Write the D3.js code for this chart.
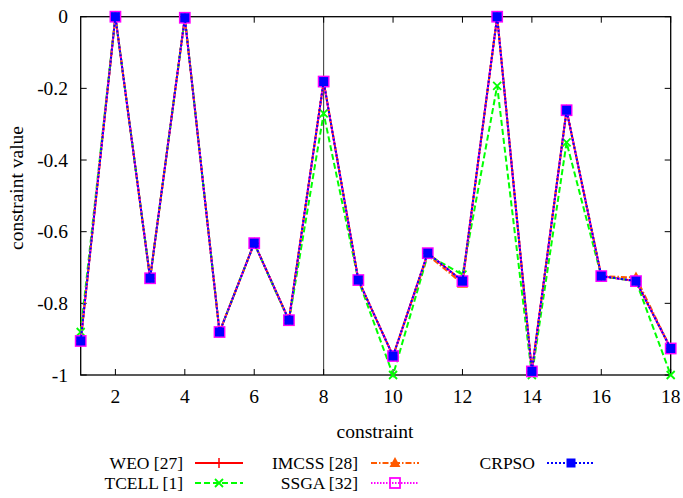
<!DOCTYPE html>
<html>
<head>
<meta charset="utf-8">
<script src="https://cdn.jsdelivr.net/npm/d3@7.9.0/dist/d3.min.js"></script>
<style>
  body { margin: 0; background: #fff; }
</style>
</head>
<body>
<svg id="chart" width="683" height="498"></svg>
<script>
// data
const constraints = d3.range(1, 19);
const weo   = [-0.905, 0, -0.73, -0.003, -0.88, -0.632, -0.847, -0.181, -0.735, -0.947, -0.66, -0.738, 0, -0.99, -0.261, -0.724, -0.738, -0.926];
const tcell = [-0.88, 0, -0.73, -0.003, -0.88, -0.632, -0.85, -0.27, -0.735, -1.0, -0.665, -0.72, -0.193, -1.0, -0.351, -0.724, -0.738, -1.0];
const imcss = [-0.905, 0, -0.73, -0.003, -0.88, -0.632, -0.847, -0.181, -0.735, -0.947, -0.665, -0.745, 0, -0.99, -0.261, -0.724, -0.728, -0.926];
const ssga  = [-0.905, 0, -0.73, -0.003, -0.88, -0.632, -0.847, -0.181, -0.735, -0.947, -0.66, -0.738, 0, -0.99, -0.261, -0.724, -0.738, -0.926];
const crpso = [-0.905, 0, -0.73, -0.003, -0.88, -0.632, -0.847, -0.181, -0.735, -0.947, -0.66, -0.738, 0, -0.99, -0.261, -0.724, -0.738, -0.926];
const xTicks = [2, 4, 6, 8, 10, 12, 14, 16, 18];
const yTicks = [0, -0.2, -0.4, -0.6, -0.8, -1];

const series = [
  {name: "WEO [27]",   values: weo,   color: "#ff0000", dash: null,        marker: "plus"},
  {name: "TCELL [1]",  values: tcell, color: "#00ff00", dash: "6,3",       marker: "cross"},
  {name: "IMCSS [28]", values: imcss, color: "#ff5a00", dash: "6,2,1.5,2", marker: "triangle"},
  {name: "SSGA [32]",  values: ssga,  color: "#ff00ff", dash: "1.5,1.5",   marker: "square"},
  {name: "CRPSO",      values: crpso, color: "#0000ff", dash: "2,2",       marker: "fsquare"}
];

const svg = d3.select("#chart");
const pL = 80.7, pR = 670.7, pT = 16.7, pB = 375;
const font = '"Liberation Serif", "Times New Roman", serif';

const x = d3.scaleLinear().domain([1, 18]).range([pL, pR]);
const y = d3.scaleLinear().domain([-1, 0]).range([pB, pT]);

function label(px, py, str, size, anchor) {
  return svg.append("text").attr("x", px).attr("y", py).attr("text-anchor", anchor)
    .style("font-family", font).style("font-size", size + "px").text(str);
}

// frame
svg.append("rect").attr("x", pL).attr("y", pT)
  .attr("width", pR - pL).attr("height", pB - pT)
  .attr("fill", "none").attr("stroke", "#000").attr("stroke-width", 1.3);

// vertical line at constraint 8
svg.append("line").attr("x1", x(8)).attr("x2", x(8)).attr("y1", pT).attr("y2", pB)
  .attr("stroke", "#333").attr("stroke-width", 1);

// ticks (inward, mirrored)
const tl = 6;
xTicks.forEach(t => {
  svg.append("line").attr("x1", x(t)).attr("x2", x(t)).attr("y1", pB).attr("y2", pB - tl).attr("stroke", "#000");
  svg.append("line").attr("x1", x(t)).attr("x2", x(t)).attr("y1", pT).attr("y2", pT + tl).attr("stroke", "#000");
  label(x(t), 403, t, 19.5, "middle");
});
yTicks.forEach(t => {
  svg.append("line").attr("x1", pL).attr("x2", pL + tl).attr("y1", y(t)).attr("y2", y(t)).attr("stroke", "#000");
  svg.append("line").attr("x1", pR).attr("x2", pR - tl).attr("y1", y(t)).attr("y2", y(t)).attr("stroke", "#000");
  label(68, y(t) + 6.5, t, 19.5, "end");
});

// axis titles
label(375, 438, "constraint", 19.5, "middle");
label(0, 0, "constraint value", 19.5, "middle").attr("transform", "translate(23,188) rotate(-90)");

function drawMarker(g, type, cx, cy, color) {
  const s = 5;
  if (type === "plus") {
    g.append("path").attr("d", `M${cx - s},${cy}H${cx + s}M${cx},${cy - s}V${cy + s}`)
      .attr("stroke", color).attr("stroke-width", 1.5).attr("fill", "none");
  } else if (type === "cross") {
    g.append("path").attr("d", `M${cx - 4},${cy - 4}L${cx + 4},${cy + 4}M${cx - 4},${cy + 4}L${cx + 4},${cy - 4}`)
      .attr("stroke", color).attr("stroke-width", 1.8).attr("fill", "none");
  } else if (type === "triangle") {
    g.append("path").attr("d", `M${cx},${cy - 6}L${cx + 5.5},${cy + 4}L${cx - 5.5},${cy + 4}Z`)
      .attr("fill", color);
  } else if (type === "square") {
    g.append("rect").attr("x", cx - 5).attr("y", cy - 5).attr("width", 10).attr("height", 10)
      .attr("fill", "none").attr("stroke", color).attr("stroke-width", 1.8);
  } else if (type === "fsquare") {
    g.append("rect").attr("x", cx - 4.5).attr("y", cy - 4.5).attr("width", 9).attr("height", 9)
      .attr("fill", color);
  }
}

const line = d3.line().x((d, i) => x(constraints[i])).y(d => y(d));

series.forEach(s => {
  const g = svg.append("g");
  g.append("path").datum(s.values).attr("d", line)
    .attr("fill", "none").attr("stroke", s.color).attr("stroke-width", 2)
    .attr("stroke-dasharray", s.dash);
  s.values.forEach((v, i) => drawMarker(g, s.marker, x(constraints[i]), y(v), s.color));
});

// legend
const legendPos = [
  {tx: 183, x1: 195, x2: 243, y: 463},
  {tx: 183, x1: 195, x2: 243, y: 483},
  {tx: 358, x1: 371, x2: 419, y: 463},
  {tx: 358, x1: 371, x2: 419, y: 483},
  {tx: 535, x1: 547, x2: 595, y: 463}
];
series.forEach((s, i) => {
  const p = legendPos[i];
  const g = svg.append("g");
  label(p.tx, p.y + 6, s.name, 17.5, "end");
  g.append("line").attr("x1", p.x1).attr("x2", p.x2).attr("y1", p.y).attr("y2", p.y)
    .attr("stroke", s.color).attr("stroke-width", 2).attr("stroke-dasharray", s.dash);
  drawMarker(g, s.marker, (p.x1 + p.x2) / 2, p.y, s.color);
});
</script>
</body>
</html>
